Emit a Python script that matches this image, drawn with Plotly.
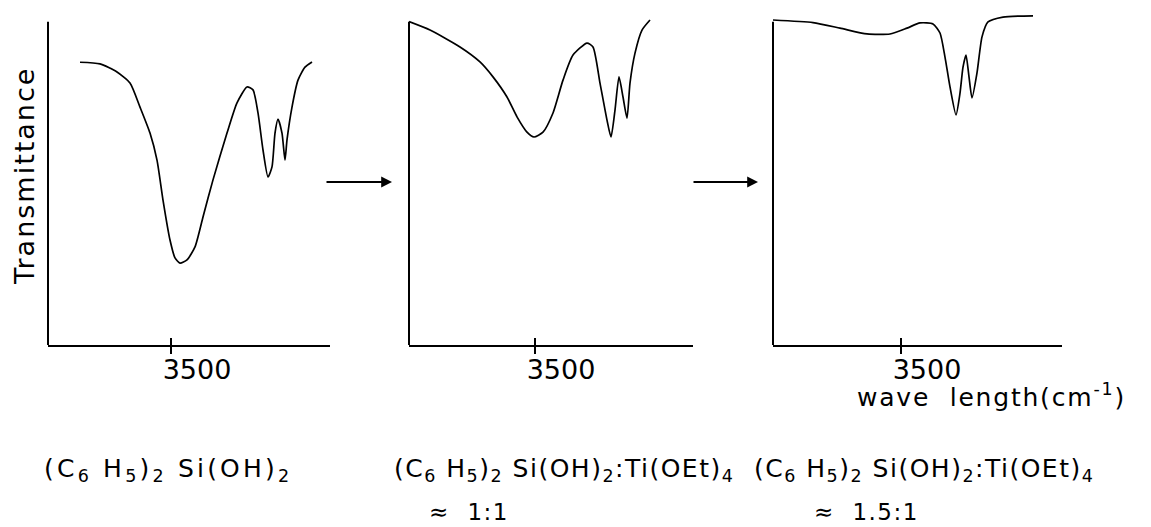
import plotly.graph_objects as go

# ---- data (wavenumber cm^-1, transmittance %) ----
wn_1 = [3318, 3358, 3392, 3418, 3438, 3458, 3472, 3484, 3498, 3508, 3518, 3532, 3548, 3564,
        3584, 3612, 3632, 3652, 3664, 3674, 3684, 3694, 3702, 3708, 3714, 3722, 3728, 3732,
        3742, 3754, 3768, 3782]
tr_1 = [87.0, 86.5, 84.0, 80.6, 73.2, 65.2, 56.9, 44.6, 32.3, 26.8, 25.2, 26.2, 30.2, 39.4,
        50.8, 65.2, 74.5, 79.4, 78.5, 71.4, 60.0, 51.7, 54.8, 65.2, 69.5, 65.2, 56.9, 63.1,
        73.2, 81.5, 85.5, 87.1]

wn_2 = [3248, 3290, 3350, 3390, 3416, 3444, 3464, 3484, 3498, 3516, 3536, 3556, 3576, 3604,
        3616, 3630, 3644, 3652, 3660, 3668, 3676, 3684, 3690, 3700, 3714, 3730]
tr_2 = [99.5, 96.9, 91.7, 87.1, 82.5, 76.3, 70.2, 65.5, 64.0, 65.5, 71.4, 81.5, 89.2, 92.9,
        91.7, 80.6, 69.2, 64.0, 72.3, 82.5, 76.3, 69.8, 80.6, 89.8, 96.9, 100.0]

wn_3 = [3244, 3324, 3378, 3432, 3478, 3512, 3538, 3564, 3578, 3588, 3598, 3610, 3618, 3624,
        3630, 3636, 3642, 3652, 3662, 3674, 3704, 3764]
tr_3 = [100.0, 99.2, 97.5, 95.7, 95.7, 97.5, 99.1, 98.8, 96.0, 88.6, 79.4, 70.8, 77.5, 85.5,
        89.2, 82.5, 76.0, 83.7, 94.8, 99.4, 100.9, 101.3]

x_ranges = [[3254, 3818], [3248, 3816], [3244, 3822]]
tick_vals = [3500]
tick_text = ["3500"]

compounds = [
    "(C<sub>6</sub> H<sub>5</sub>)<sub>2</sub> Si(OH)<sub>2</sub>",
    "(C<sub>6</sub> H<sub>5</sub>)<sub>2</sub> Si(OH)<sub>2</sub>:Ti(OEt)<sub>4</sub>",
    "(C<sub>6</sub> H<sub>5</sub>)<sub>2</sub> Si(OH)<sub>2</sub>:Ti(OEt)<sub>4</sub>",
]
ratios = ["", "\u2248  1:1", "\u2248  1.5:1"]
y_title = "Transmittance"
x_title = "wave  length(cm<sup>-1</sup>)"

# ---- geometry (page body has an 8px margin) ----
OFF = 8
FW, FH = 1151 - OFF, 527 - OFF
FONT = "DejaVu Sans"


def px(xp):
    return (xp - OFF) / FW


def py(yp):
    return (527 - yp) / FH


def spaced(t, s):
    return '<span style="letter-spacing:%spx">%s</span>' % (s, t)


fig = go.Figure()

series = [(wn_1, tr_1), (wn_2, tr_2), (wn_3, tr_3)]
x_domains_px = [(48, 330), (409, 693), (773, 1062)]
y_bottom_px, y_top_px = 345, 13.5

for i, (wn, tr) in enumerate(series):
    suffix = "" if i == 0 else str(i + 1)
    fig.add_trace(go.Scatter(
        x=wn, y=tr, mode="lines",
        line=dict(color="black", width=1.7, shape="spline", smoothing=0.6),
        xaxis="x" + suffix, yaxis="y" + suffix, showlegend=False, hoverinfo="skip"))
    d0, d1 = x_domains_px[i]
    fig.update_layout(**{
        "xaxis" + suffix: dict(
            domain=[px(d0), px(d1)], range=x_ranges[i], anchor="y" + suffix,
            showline=True, linecolor="black", linewidth=2, showgrid=False, zeroline=False,
            tickmode="array", tickvals=tick_vals, ticktext=tick_text,
            ticks="inside", ticklen=7, tickwidth=1.5, tickcolor="black",
            minor=dict(tickmode="array", tickvals=tick_vals, ticks="outside", ticklen=7,
                       tickwidth=1.5, tickcolor="black", showgrid=False),
            ticklabelstandoff=0, ticklabelshift=26,
            tickfont=dict(family=FONT, size=27, color="black")),
        "yaxis" + suffix: dict(
            domain=[py(y_bottom_px), py(y_top_px)], range=[0, 102],
            anchor="x" + suffix, showline=False, showgrid=False, zeroline=False,
            showticklabels=False, ticks=""),
    })
    # y-axis line
    fig.add_shape(type="line", xref="x" + suffix + " domain", yref="y" + suffix,
                  x0=0, x1=0, y0=0, y1=99.5, line=dict(color="black", width=2))

# y-axis title
fig.add_annotation(text=spaced(y_title, 2), xref="paper", yref="paper",
                   x=px(25), y=py(176), xanchor="center", yanchor="middle",
                   textangle=-90, showarrow=False,
                   font=dict(family=FONT, size=27, color="black"))

# arrows between panels
for x_tail, x_head in [(325, 392), (692, 758)]:
    fig.add_annotation(x=px(x_head), y=py(182), xref="paper", yref="paper",
                       ax=-(x_head - x_tail), ay=0, axref="pixel", ayref="pixel",
                       showarrow=True, arrowhead=2, arrowsize=1.2, arrowwidth=1.8,
                       arrowcolor="black", text="")

# x-axis title
fig.add_annotation(text=spaced(x_title, 1.8), xref="paper", yref="paper",
                   x=px(855), y=py(396), xanchor="left", yanchor="middle", showarrow=False,
                   font=dict(family=FONT, size=25, color="black"))

# compound labels
label_x = [42, 392, 752]
label_spacing = [3.2, 1.5, 1.5]
ratio_x = [0, 427, 812]
for i in range(3):
    fig.add_annotation(text=spaced(compounds[i], label_spacing[i]), xref="paper", yref="paper",
                       x=px(label_x[i]), y=py(470), xanchor="left", yanchor="middle",
                       showarrow=False,
                       font=dict(family=FONT, size=25, color="black"))
    if ratios[i]:
        fig.add_annotation(text=spaced(ratios[i], 1.5), xref="paper", yref="paper",
                           x=px(ratio_x[i]), y=py(512), xanchor="left", yanchor="middle",
                           showarrow=False,
                           font=dict(family=FONT, size=23, color="black"))

fig.update_layout(width=FW, height=FH, margin=dict(l=0, r=0, t=0, b=0),
                  paper_bgcolor="white", plot_bgcolor="white")

fig.write_html("out.html")
